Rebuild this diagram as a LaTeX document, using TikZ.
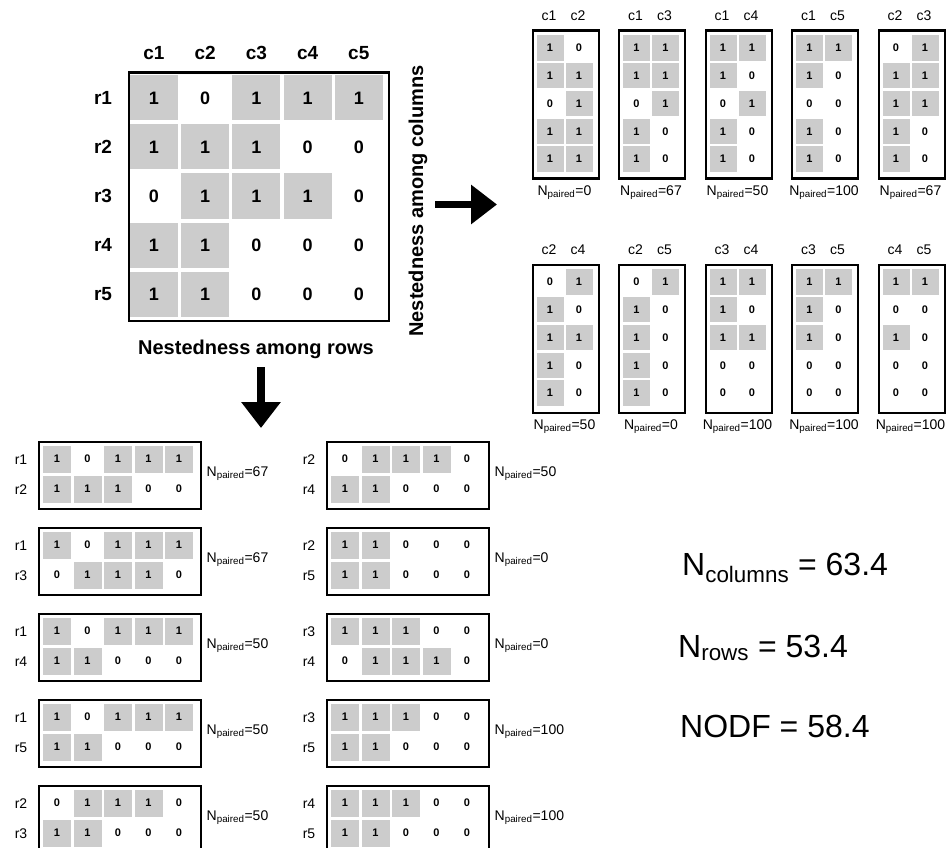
\documentclass[tikz,border=0pt]{standalone}
\usepackage{fontspec}
\setmainfont{Liberation Sans}
\usetikzlibrary{arrows.meta}
\definecolor{shade1}{HTML}{CCCCCC}
\definecolor{shade0}{HTML}{FFFFFF}
\newcommand{\fsz}[1]{\fontsize{#1}{#1}\selectfont}
\tikzset{
  frame/.style={draw=black, line width=2.3pt, inner sep=0pt},
  bigcell/.style={inner sep=0pt, minimum width=48pt, minimum height=45pt, font=\fsz{18}\bfseries},
  smallcell/.style={inner sep=0pt, minimum width=27pt, minimum height=25.5pt, font=\fsz{11}\bfseries},
  rowcell/.style={inner sep=0pt, minimum width=28pt, minimum height=27pt, font=\fsz{11}\bfseries},
  hdr/.style={font=\fsz{19}\bfseries, inner sep=0pt},
  axislab/.style={font=\fsz{20}\bfseries, inner sep=0pt},
  smalllab/.style={font=\fsz{14}, inner sep=0pt},
  plabel/.style={font=\fsz{14}, inner sep=0pt},
  bigarrow/.style={line width=7.5pt, -{Triangle[length=26pt,width=38pt]}},
  result/.style={font=\fsz{32}, inner sep=0pt, anchor=base west},
}
% column pair box: name, left, top, colA, colB, list a/b per row, N
\newcommand{\colpair}[7]{%
  \node[frame, minimum width=66pt, minimum height=148pt, anchor=north west] (#1) at (#2,#3) {};
  \node[smalllab] (#1-la) at ({#2+17.5},{#3-14}) {c#4};
  \node[smalllab] (#1-lb) at ({#2+46.5},{#3-14}) {c#5};
  \foreach \a/\b [count=\i] in {#6} {
    \node[smallcell, fill=shade\a] (#1-\i-a) at ({#2+18.5},{#3+18.4+27.8*(\i-1)}) {\a};
    \node[smallcell, fill=shade\b] (#1-\i-b) at ({#2+47.5},{#3+18.4+27.8*(\i-1)}) {\b};
  }
  \node[plabel] (#1-n) at ({#2+33},{#3+163}) {N\textsubscript{paired}=#7};
}
% row pair box: name, left, top, rowA, rowB, list top/bottom per column, N
\newcommand{\rowpair}[7]{%
  \node[frame, minimum width=162pt, minimum height=67pt, anchor=north west] (#1) at (#2,#3) {};
  \node[smalllab] (#1-la) at ({#2-16.5},{#3+19}) {r#4};
  \node[smalllab] (#1-lb) at ({#2-16.5},{#3+49}) {r#5};
  \foreach \a/\b [count=\j] in {#6} {
    \node[rowcell, fill=shade\a] (#1-a-\j) at ({#2+19.5+30.5*(\j-1)},{#3+18.5}) {\a};
    \node[rowcell, fill=shade\b] (#1-b-\j) at ({#2+19.5+30.5*(\j-1)},{#3+48.5}) {\b};
  }
  \node[plabel, anchor=west] (#1-n) at ({#2+169},{#3+33}) {N\textsubscript{paired}=#7};
}
\begin{document}
\begin{tikzpicture}[x=1pt,y=-1pt]
\useasboundingbox (0,0) rectangle (948,848);
% main matrix
\node[frame, line width=2.8pt, minimum width=260pt, minimum height=248pt, anchor=north west] (main) at (127.5,71.5) {};
\foreach \row [count=\i] in {{1,0,1,1,1},{1,1,1,0,0},{0,1,1,1,0},{1,1,0,0,0},{1,1,0,0,0}} {
  \foreach \v [count=\j] in \row {
    \node[bigcell, fill=shade\v] (m-\i-\j) at ({154+51.2*(\j-1)},{98+49*(\i-1)}) {\v};
  }
}
\foreach \j in {1,...,5} \node[hdr] (ch\j) at ({154+51.2*(\j-1)},53) {c\j};
\foreach \i in {1,...,5} \node[hdr] (rh\i) at (103,{98+49*(\i-1)}) {r\i};
\node[axislab] (rowsl) at (256,349) {Nestedness among rows};
\node[axislab, rotate=90] (colsl) at (418,201) {Nestedness among columns};
% arrows
\coordinate (ra-s) at (435,204.5);
\coordinate (ra-e) at (497,204.5);
\draw[bigarrow] (ra-s) -- (ra-e);
\coordinate (da-s) at (261,367);
\coordinate (da-e) at (261,428);
\draw[bigarrow] (da-s) -- (da-e);
% column pairs
\colpair{p12}{531.5}{29.5}{1}{2}{1/0,1/1,0/1,1/1,1/1}{0}
\colpair{p13}{618}{29.5}{1}{3}{1/1,1/1,0/1,1/0,1/0}{67}
\colpair{p14}{704.5}{29.5}{1}{4}{1/1,1/0,0/1,1/0,1/0}{50}
\colpair{p15}{791}{29.5}{1}{5}{1/1,1/0,0/0,1/0,1/0}{100}
\colpair{p23}{877.5}{29.5}{2}{3}{0/1,1/1,1/1,1/0,1/0}{67}
\colpair{p24}{531.5}{263.5}{2}{4}{0/1,1/0,1/1,1/0,1/0}{50}
\colpair{p25}{618}{263.5}{2}{5}{0/1,1/0,1/0,1/0,1/0}{0}
\colpair{p34}{704.5}{263.5}{3}{4}{1/1,1/0,1/1,0/0,0/0}{100}
\colpair{p35}{791}{263.5}{3}{5}{1/1,1/0,1/0,0/0,0/0}{100}
\colpair{p45}{877.5}{263.5}{4}{5}{1/1,0/0,1/0,0/0,0/0}{100}
% row pairs
\rowpair{q12}{37.5}{440.5}{1}{2}{1/1,0/1,1/1,1/0,1/0}{67}
\rowpair{q13}{37.5}{526.5}{1}{3}{1/0,0/1,1/1,1/1,1/0}{67}
\rowpair{q14}{37.5}{612.5}{1}{4}{1/1,0/1,1/0,1/0,1/0}{50}
\rowpair{q15}{37.5}{698.5}{1}{5}{1/1,0/1,1/0,1/0,1/0}{50}
\rowpair{q23}{37.5}{784.5}{2}{3}{0/1,1/1,1/0,1/0,0/0}{50}
\rowpair{q24}{325.5}{440.5}{2}{4}{0/1,1/1,1/0,1/0,0/0}{50}
\rowpair{q25}{325.5}{526.5}{2}{5}{1/1,1/1,0/0,0/0,0/0}{0}
\rowpair{q34}{325.5}{612.5}{3}{4}{1/0,1/1,1/1,0/1,0/0}{0}
\rowpair{q35}{325.5}{698.5}{3}{5}{1/1,1/1,1/0,0/0,0/0}{100}
\rowpair{q45}{325.5}{784.5}{4}{5}{1/1,1/1,1/0,0/0,0/0}{100}
% results
\node[result] (ncol) at (682,575) {N\textsubscript{columns} = 63.4};
\node[result] (nrow) at (678,657) {N\textsubscript{rows} = 53.4};
\node[result] (nodf) at (680,737) {NODF = 58.4};
\end{tikzpicture}
\end{document}
